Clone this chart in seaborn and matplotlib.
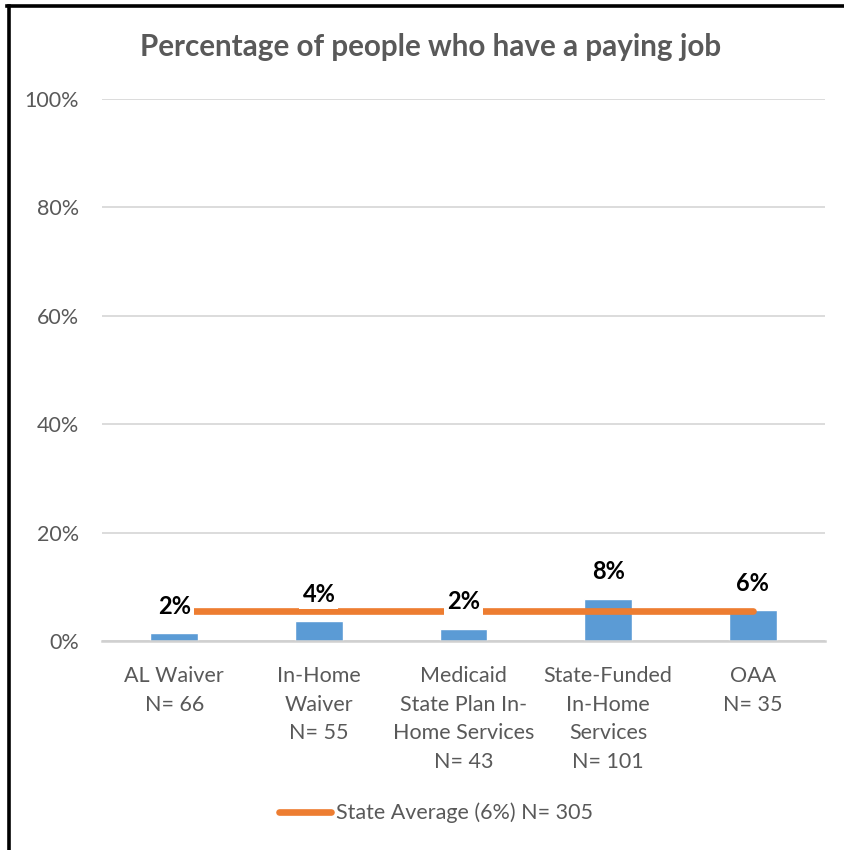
import matplotlib
matplotlib.use("Agg")
import matplotlib.pyplot as plt
import seaborn as sns
import pandas as pd
from matplotlib.lines import Line2D

categories = ["AL Waiver\nN= 66", "In-Home\nWaiver\nN= 55",
              "Medicaid\nState Plan In-\nHome Services\nN= 43",
              "State-Funded\nIn-Home\nServices\nN= 101", "OAA\nN= 35"]
values = [1.5, 3.6, 2.3, 7.8, 5.7]
bar_labels = ["2%", "4%", "2%", "8%", "6%"]
state_avg = [5.6, 5.6, 5.6, 5.6, 5.6]
legend_label = "State Average (6%) N= 305"
title = "Percentage of people who have a paying job"
yticks = [0, 20, 40, 60, 80, 100]

sns.set_theme(style="white")
plt.rcParams['font.family'] = ['Lato', 'DejaVu Sans']

GRAY = "#595959"
BLUE = "#5b9bd5"
ORANGE = "#ed7d31"

fig = plt.figure(figsize=(8.45, 8.5), dpi=100)
ax = fig.add_axes([102/845, 1-641/850, (825-102)/845, (641-99)/850])

df = pd.DataFrame({"cat": categories, "val": values})
sns.barplot(data=df, x="cat", y="val", color=BLUE, width=0.33, ax=ax,
            saturation=1, zorder=2)
sns.lineplot(x=list(range(len(categories))), y=state_avg, ax=ax, color=ORANGE,
             linewidth=4.8, zorder=3, solid_capstyle="round")

ax.bar_label(ax.containers[0], labels=bar_labels, padding=11, fontsize=17,
             fontweight="bold", color="black", zorder=5,
             bbox=dict(facecolor="white", edgecolor="none", pad=2.2))

ax.set_ylim(0, 100)
ax.set_xlim(-0.5, 4.5)
ax.set_yticks(yticks)
ax.set_yticklabels([f"{t}%" for t in yticks])
ax.yaxis.grid(True, color="#d9d9d9", linewidth=1.3, zorder=0)
ax.set_axisbelow(True)
for s in ["top", "right", "left"]:
    ax.spines[s].set_visible(False)
ax.spines["bottom"].set_color("#d0d0d0")
ax.spines["bottom"].set_linewidth(1.8)
ax.tick_params(axis="y", length=0, pad=16.5, labelsize=15.5, labelcolor=GRAY)
ax.tick_params(axis="x", length=0, pad=18, labelsize=15.5, labelcolor=GRAY)
for lbl in ax.get_xticklabels():
    lbl.set_linespacing(1.54)
ax.set_xlabel("")
ax.set_ylabel("")

fig.text(431/845, 1-56/850, title, ha="center", va="baseline", fontsize=21.3,
         fontweight="bold", color=GRAY)

handle = Line2D([], [], color=ORANGE, linewidth=4.8, solid_capstyle="round")
fig.legend([handle], [legend_label], loc="center", bbox_to_anchor=(436/845, 1-813/850),
           frameon=False, fontsize=15.5, labelcolor=GRAY, handlelength=2.4,
           handletextpad=0.25)

# black frame on top and left edges
fig.add_artist(Line2D([7/845, 1.0], [1-5.5/850, 1-5.5/850], transform=fig.transFigure,
                      color="black", linewidth=2.6, solid_capstyle="projecting"))
fig.add_artist(Line2D([9/845, 9/845], [0.0, 1-5.5/850], transform=fig.transFigure,
                      color="black", linewidth=2.6, solid_capstyle="projecting"))

fig.savefig("out.png", dpi=100)
